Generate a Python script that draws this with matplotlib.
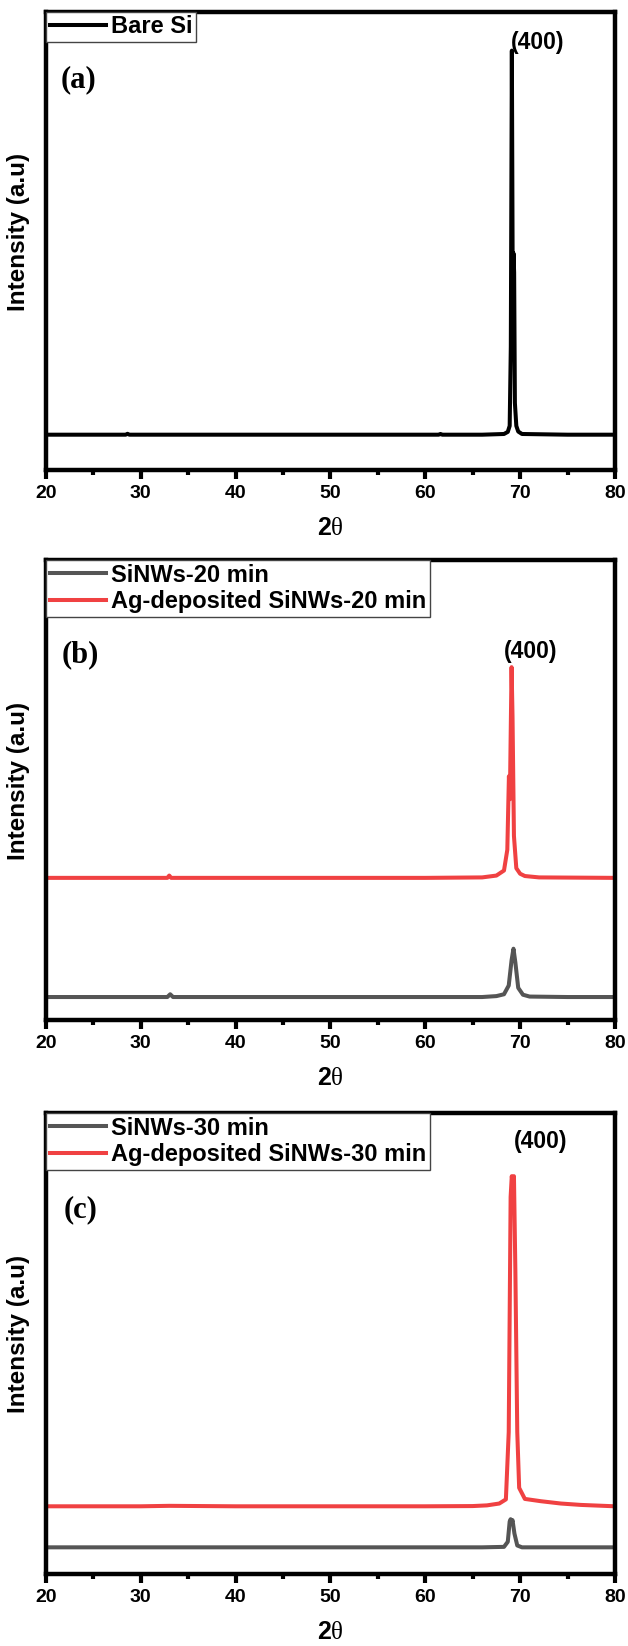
import matplotlib
matplotlib.use("Agg")
import matplotlib.pyplot as plt

plt.rcParams['font.family'] = ['Liberation Sans', 'DejaVu Sans']
plt.rcParams['font.weight'] = 'bold'
plt.rcParams['mathtext.fontset'] = 'custom'
plt.rcParams['mathtext.rm'] = 'Liberation Serif:normal'
plt.rcParams['mathtext.bf'] = 'Liberation Sans:bold'

# ---------------- data ----------------
xticks = [20, 30, 40, 50, 60, 70, 80]
xlabel = r'$\mathbf{2}\mathrm{\theta}$'
ylabel = 'Intensity (a.u)'
peak_label = '(400)'
panel_tags = ['(a)', '(b)', '(c)']

# (a) Bare Si
bare_label = 'Bare Si'
bare_x = [20, 28.4, 28.6, 28.8, 40, 50, 60, 61.4, 61.6, 61.8, 66, 68.3, 68.7, 68.9, 69.02,
          69.13, 69.22, 69.3, 69.37, 69.45, 69.6, 69.8, 70.2, 75, 80]
bare_y = [0, 0, 25, 0, 0, 0, 0, 0, 20, 0, 0, 20, 80, 250, 2500,
          10900, 4200, 5150, 4600, 900, 250, 90, 20, 0, 0]

# (b) 20 min
b_gray_label = 'SiNWs-20 min'
b_gray_x = [20, 32.8, 33.1, 33.4, 40, 50, 60, 66, 67.5, 68.3, 68.8, 69.1, 69.3, 69.5,
            69.8, 70.3, 71, 75, 80]
b_gray_y = [0, 0, 60, 0, 0, 0, 0, 0, 20, 60, 250, 800, 1050, 750,
            200, 50, 10, 0, 0]
b_red_label = 'Ag-deposited SiNWs-20 min'
b_red_x = [20, 32.8, 33.0, 33.2, 40, 50, 60, 66, 67.5, 68.3, 68.65, 68.82, 68.92, 69.0,
           69.1, 69.2, 69.35, 69.6, 70.0, 70.5, 72, 80]
b_red_y = [2590, 2590, 2640, 2590, 2590, 2590, 2590, 2600, 2640, 2750, 3200, 4800, 4300, 5600,
           7170, 6100, 3500, 2800, 2680, 2630, 2600, 2590]

# (c) 30 min
c_gray_label = 'SiNWs-30 min'
c_gray_x = [20, 30, 40, 50, 60, 66, 68.3, 68.7, 68.9, 69.0, 69.1, 69.2, 69.4, 69.7, 70.2, 80]
c_gray_y = [0, 0, 0, 0, 0, 0, 10, 120, 560, 610, 520, 590, 300, 40, 0, 0]
c_red_label = 'Ag-deposited SiNWs-30 min'
c_red_x = [20, 30, 33, 40, 50, 60, 65, 66.5, 67.8, 68.5, 68.8, 69.0, 69.12, 69.22, 69.35,
           69.5, 69.7, 69.9, 70.5, 72.2, 74.3, 76.4, 80]
c_red_y = [890, 890, 900, 890, 890, 890, 895, 910, 950, 1040, 2500, 7600, 8050, 7900, 8050,
           6000, 2500, 1290, 1050, 1000, 950, 920, 890]

GRAY = '#555555'
RED = '#F04142'
BLACK = '#000000'

fig = plt.figure(figsize=(6.28, 16.46), dpi=100)
positions = [
    [0.0732, 0.7145, 0.906, 0.2783],
    [0.0732, 0.3803, 0.906, 0.2795],
    [0.0732, 0.0437, 0.906, 0.2801],
]
ylims = [(-1000, 12000), (-500, 9500), (-580, 9420)]
label_pos = [(71.8, 0.934), (71.1, 0.80), (72.2, 0.938)]
tag_pos = [(0.058, 0.851), (0.06, 0.793), (0.061, 0.79)]

series = [
    [(bare_x, bare_y, BLACK, bare_label)],
    [(b_gray_x, b_gray_y, GRAY, b_gray_label), (b_red_x, b_red_y, RED, b_red_label)],
    [(c_gray_x, c_gray_y, GRAY, c_gray_label), (c_red_x, c_red_y, RED, c_red_label)],
]

for i, pos in enumerate(positions):
    ax = fig.add_axes(pos)
    for xs, ys, col, lab in series[i]:
        ax.plot(xs, ys, color=col, lw=2.9, label=lab, solid_joinstyle='round')
    ax.set_xlim(20, 80)
    ax.set_ylim(*ylims[i])
    ax.set_xticks(xticks)
    ax.set_xticks([25, 35, 45, 55, 65, 75], minor=True)
    ax.set_yticks([])
    ax.tick_params(axis='x', which='major', direction='out', length=6.5, width=3,
                   labelsize=14, pad=4)
    ax.tick_params(axis='x', which='minor', direction='out', length=3.5, width=3)
    for lbl in ax.get_xticklabels():
        lbl.set_fontweight('bold')
    for sp in ax.spines.values():
        sp.set_linewidth(3.2)
    ax.set_xlabel(xlabel, fontsize=18)
    ax.xaxis.set_label_coords(0.5, -0.1)
    ax.set_ylabel(ylabel, fontsize=17.5, fontweight='bold')
    ax.yaxis.set_label_coords(-0.028, 0.52)
    lx, ly = label_pos[i]
    ax.text(lx, ly, peak_label, transform=ax.get_xaxis_transform(), ha='center',
            va='center', fontsize=16.5, fontweight='bold')
    tx, ty = tag_pos[i]
    ax.text(tx, ty, panel_tags[i], transform=ax.transAxes, ha='center', va='center',
            fontsize=22, fontweight='bold', family=['Liberation Serif'])
    leg = ax.legend(loc='upper left', borderaxespad=0.0, fontsize=17, frameon=True,
                    fancybox=False, edgecolor='#444444', framealpha=1,
                    handlelength=2.4, handletextpad=0.2, borderpad=0.15,
                    labelspacing=0.15)
    leg.get_frame().set_linewidth(1.0)
    for t in leg.get_texts():
        t.set_fontweight('bold')

fig.savefig('out.png', dpi=100)
